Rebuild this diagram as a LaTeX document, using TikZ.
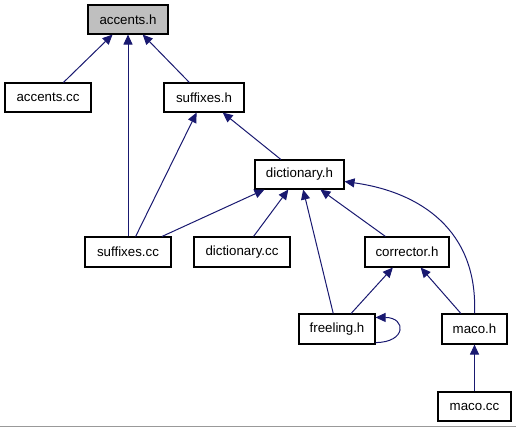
\documentclass[tikz,border=0pt]{standalone}
\usepackage{fontspec}
\setmainfont{Liberation Sans}
\usetikzlibrary{arrows.meta}
\definecolor{edgecol}{RGB}{25,25,112}
\definecolor{hdrgray}{RGB}{191,191,191}
\tikzset{
  filebox/.style={draw=black, line width=1.1pt, rectangle, inner sep=0pt,
    minimum height=29pt, font=\fontsize{13.3pt}{16pt}\selectfont, fill=white},
  edge/.style={draw=edgecol, line width=1pt, -{Triangle[length=10pt,width=9pt]}},
}
\begin{document}
\begin{tikzpicture}[x=1pt, y=-1pt]
\useasboundingbox (0,0) rectangle (516,427);
\draw[color=black!40, line width=1pt] (0,426) -- (516,426);

\node[filebox, fill=hdrgray, minimum width=80pt] (ah) at (128,19.5) {accents.h};
\node[filebox, minimum width=86pt] (acc) at (48,97.5) {accents.cc};
\node[filebox, minimum width=80pt] (sh) at (204,97.5) {suffixes.h};
\node[filebox, minimum width=89pt] (dh) at (299.5,174.5) {dictionary.h};
\node[filebox, minimum width=86pt, minimum height=30pt] (scc) at (128,252) {suffixes.cc};
\node[filebox, minimum width=96pt, minimum height=30pt] (dcc) at (242,252) {dictionary.cc};
\node[filebox, minimum width=84pt, minimum height=30pt] (cor) at (407,252) {corrector.h};
\node[filebox, minimum width=76pt, minimum height=30pt] (fr) at (337,329) {freeling.h};
\node[filebox, minimum width=65pt, minimum height=30pt] (mh) at (474.5,329) {maco.h};
\node[filebox, minimum width=73pt] (mcc) at (474.5,406.5) {maco.cc};

\draw[edge] (acc) -- (ah);
\draw[edge] (scc) -- (ah);
\draw[edge] (sh) -- (ah);
\draw[edge] (scc) -- (sh);
\draw[edge] (dh) -- (sh);
\draw[edge] (scc.north -| 162,0) -- ([xshift=10pt]dh.south west);
\draw[edge] (dcc) -- (dh);
\draw[edge] (fr) -- (dh);
\draw[edge] (cor) -- (dh);
\draw[edge] (mh.north) .. controls (478,230) and (420,192) .. ([yshift=-7pt]dh.east);
\draw[edge] (fr) -- (cor);
\draw[edge] (mh) -- (cor);
\draw[edge] ([yshift=2pt]fr.south east) .. controls +(31,0) and +(31,0) .. ([yshift=-4pt]fr.north east);
\draw[edge] (mcc) -- (mh);
\end{tikzpicture}
\end{document}
